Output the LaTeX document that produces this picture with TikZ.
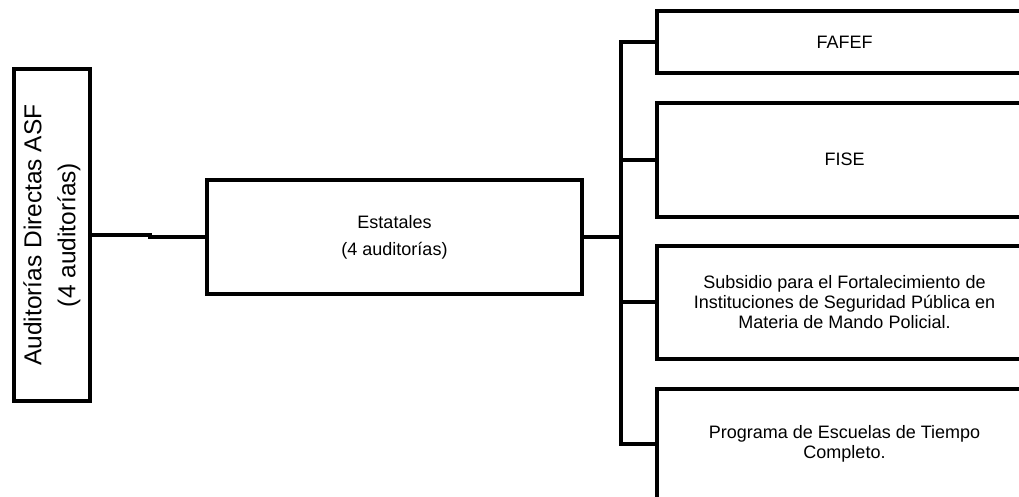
\documentclass[tikz,border=0pt]{standalone}
\usepackage{fontspec}
\setmainfont{Liberation Sans}
\usetikzlibrary{positioning}

\begin{document}
\begin{tikzpicture}[x=0.025cm, y=-0.025cm,
    box/.style={draw, line width=2.85pt, inner sep=0pt, align=center,
        font=\fontsize{12.8}{14.2}\selectfont},
    link/.style={line width=2.85pt}]
    % Frame
    \path[use as bounding box, clip] (0,0) rectangle (1019,497);

    % Root
    \node[box, rotate=90, minimum width=8.3cm, minimum height=1.9cm,
        font=\fontsize{17.4}{24.2}\selectfont] (aud) at (52,235)
        {Auditorías Directas ASF\\(4 auditorías)};

    % Level 1
    \node[box, minimum width=9.375cm, minimum height=2.85cm,
        font=\fontsize{12.8}{19.2}\selectfont] (est) at (394.5,237)
        {Estatales\\(4 auditorías)};

    % Level 2
    \node[box, minimum width=9.375cm, minimum height=1.55cm] (fafef) at (844.5,42.3) {FAFEF};
    \node[box, minimum width=9.375cm, minimum height=2.85cm] (fise) at (844.5,159.7) {FISE};
    \node[box, minimum width=9.375cm, minimum height=2.82cm] (subsidio) at (844.5,302.3)
        {Subsidio para el Fortalecimiento de\\Instituciones de Seguridad Pública en\\Materia de Mando Policial.};
    \node[box, minimum width=9.375cm, minimum height=2.77cm] (prog) at (844.5,444)
        {Programa de Escuelas de Tiempo\\Completo.};

    % Connectors
    \draw[link] (aud.south) -- ++(58,0) |- (est.west);
    \draw[link] (est.east) -- ++(37,0) coordinate (trunk);
    \draw[link] (fafef.west) -| (trunk |- prog.west) -- (prog.west);
    \draw[link] (trunk |- fise.west) -- (fise.west);
    \draw[link] (trunk |- subsidio.west) -- (subsidio.west);
\end{tikzpicture}
\end{document}
